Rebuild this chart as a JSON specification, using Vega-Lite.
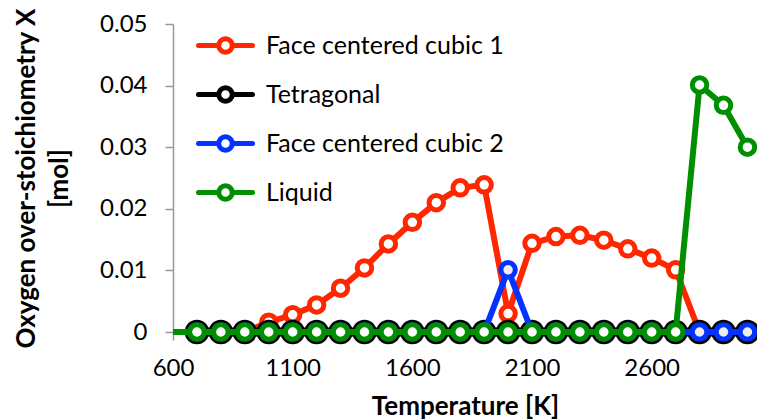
{
  "$schema": "https://vega.github.io/schema/vega-lite/v6.json",
  "width": 584,
  "height": 308,
  "autosize": "none",
  "padding": {"left": 173, "top": 24, "right": 0, "bottom": 88},
  "background": "white",
  "config": {
    "view": {"stroke": null},
    "font": "Lato",
    "axis": {
      "grid": false,
      "domainColor": "#999999",
      "domainWidth": 1.5,
      "tickColor": "#999999",
      "tickWidth": 1.5,
      "tickSize": 8,
      "labelFont": "Lato",
      "labelFontSize": 24,
      "labelColor": "#000000",
      "titleFont": "Lato",
      "titleFontSize": 26,
      "titleFontWeight": "bold",
      "titleColor": "#000000"
    },
    "legend": {
      "labelFont": "Lato",
      "labelFontSize": 25,
      "labelColor": "#000000",
      "labelLimit": 500
    }
  },
  "data": {
    "values": [
      {"T": 700, "series": "Face centered cubic 1", "x": 0},
      {"T": 800, "series": "Face centered cubic 1", "x": 0},
      {"T": 900, "series": "Face centered cubic 1", "x": 0},
      {"T": 1000, "series": "Face centered cubic 1", "x": 0.0016},
      {"T": 1100, "series": "Face centered cubic 1", "x": 0.0028},
      {"T": 1200, "series": "Face centered cubic 1", "x": 0.0044},
      {"T": 1300, "series": "Face centered cubic 1", "x": 0.0071},
      {"T": 1400, "series": "Face centered cubic 1", "x": 0.0104},
      {"T": 1500, "series": "Face centered cubic 1", "x": 0.0143},
      {"T": 1600, "series": "Face centered cubic 1", "x": 0.0178},
      {"T": 1700, "series": "Face centered cubic 1", "x": 0.021},
      {"T": 1800, "series": "Face centered cubic 1", "x": 0.0234},
      {"T": 1900, "series": "Face centered cubic 1", "x": 0.0239},
      {"T": 2000, "series": "Face centered cubic 1", "x": 0.003},
      {"T": 2100, "series": "Face centered cubic 1", "x": 0.0144},
      {"T": 2200, "series": "Face centered cubic 1", "x": 0.0155},
      {"T": 2300, "series": "Face centered cubic 1", "x": 0.0157},
      {"T": 2400, "series": "Face centered cubic 1", "x": 0.0149},
      {"T": 2500, "series": "Face centered cubic 1", "x": 0.0135},
      {"T": 2600, "series": "Face centered cubic 1", "x": 0.012},
      {"T": 2700, "series": "Face centered cubic 1", "x": 0.0101},
      {"T": 2800, "series": "Face centered cubic 1", "x": 0},
      {"T": 2900, "series": "Face centered cubic 1", "x": 0},
      {"T": 3000, "series": "Face centered cubic 1", "x": 0},

      {"T": 700, "series": "Tetragonal", "x": 0},
      {"T": 800, "series": "Tetragonal", "x": 0},
      {"T": 900, "series": "Tetragonal", "x": 0},
      {"T": 1000, "series": "Tetragonal", "x": 0},
      {"T": 1100, "series": "Tetragonal", "x": 0},
      {"T": 1200, "series": "Tetragonal", "x": 0},
      {"T": 1300, "series": "Tetragonal", "x": 0},
      {"T": 1400, "series": "Tetragonal", "x": 0},
      {"T": 1500, "series": "Tetragonal", "x": 0},
      {"T": 1600, "series": "Tetragonal", "x": 0},
      {"T": 1700, "series": "Tetragonal", "x": 0},
      {"T": 1800, "series": "Tetragonal", "x": 0},
      {"T": 1900, "series": "Tetragonal", "x": 0},
      {"T": 2000, "series": "Tetragonal", "x": 0},
      {"T": 2100, "series": "Tetragonal", "x": 0},
      {"T": 2200, "series": "Tetragonal", "x": 0},
      {"T": 2300, "series": "Tetragonal", "x": 0},
      {"T": 2400, "series": "Tetragonal", "x": 0},
      {"T": 2500, "series": "Tetragonal", "x": 0},
      {"T": 2600, "series": "Tetragonal", "x": 0},
      {"T": 2700, "series": "Tetragonal", "x": 0},
      {"T": 2800, "series": "Tetragonal", "x": 0},
      {"T": 2900, "series": "Tetragonal", "x": 0},
      {"T": 3000, "series": "Tetragonal", "x": 0},

      {"T": 700, "series": "Face centered cubic 2", "x": 0},
      {"T": 800, "series": "Face centered cubic 2", "x": 0},
      {"T": 900, "series": "Face centered cubic 2", "x": 0},
      {"T": 1000, "series": "Face centered cubic 2", "x": 0},
      {"T": 1100, "series": "Face centered cubic 2", "x": 0},
      {"T": 1200, "series": "Face centered cubic 2", "x": 0},
      {"T": 1300, "series": "Face centered cubic 2", "x": 0},
      {"T": 1400, "series": "Face centered cubic 2", "x": 0},
      {"T": 1500, "series": "Face centered cubic 2", "x": 0},
      {"T": 1600, "series": "Face centered cubic 2", "x": 0},
      {"T": 1700, "series": "Face centered cubic 2", "x": 0},
      {"T": 1800, "series": "Face centered cubic 2", "x": 0},
      {"T": 1900, "series": "Face centered cubic 2", "x": 0},
      {"T": 2000, "series": "Face centered cubic 2", "x": 0.0101},
      {"T": 2100, "series": "Face centered cubic 2", "x": 0},
      {"T": 2200, "series": "Face centered cubic 2", "x": 0},
      {"T": 2300, "series": "Face centered cubic 2", "x": 0},
      {"T": 2400, "series": "Face centered cubic 2", "x": 0},
      {"T": 2500, "series": "Face centered cubic 2", "x": 0},
      {"T": 2600, "series": "Face centered cubic 2", "x": 0},
      {"T": 2700, "series": "Face centered cubic 2", "x": 0},
      {"T": 2800, "series": "Face centered cubic 2", "x": 0},
      {"T": 2900, "series": "Face centered cubic 2", "x": 0},
      {"T": 3000, "series": "Face centered cubic 2", "x": 0},

      {"T": 600, "series": "Liquid", "x": 0},
      {"T": 700, "series": "Liquid", "x": 0},
      {"T": 800, "series": "Liquid", "x": 0},
      {"T": 900, "series": "Liquid", "x": 0},
      {"T": 1000, "series": "Liquid", "x": 0},
      {"T": 1100, "series": "Liquid", "x": 0},
      {"T": 1200, "series": "Liquid", "x": 0},
      {"T": 1300, "series": "Liquid", "x": 0},
      {"T": 1400, "series": "Liquid", "x": 0},
      {"T": 1500, "series": "Liquid", "x": 0},
      {"T": 1600, "series": "Liquid", "x": 0},
      {"T": 1700, "series": "Liquid", "x": 0},
      {"T": 1800, "series": "Liquid", "x": 0},
      {"T": 1900, "series": "Liquid", "x": 0},
      {"T": 2000, "series": "Liquid", "x": 0},
      {"T": 2100, "series": "Liquid", "x": 0},
      {"T": 2200, "series": "Liquid", "x": 0},
      {"T": 2300, "series": "Liquid", "x": 0},
      {"T": 2400, "series": "Liquid", "x": 0},
      {"T": 2500, "series": "Liquid", "x": 0},
      {"T": 2600, "series": "Liquid", "x": 0},
      {"T": 2700, "series": "Liquid", "x": 0},
      {"T": 2800, "series": "Liquid", "x": 0.0401},
      {"T": 2900, "series": "Liquid", "x": 0.0368},
      {"T": 3000, "series": "Liquid", "x": 0.0300}
    ]
  },
  "encoding": {
    "x": {
      "field": "T",
      "type": "quantitative",
      "scale": {"domain": [600, 3040], "nice": false, "zero": false},
      "axis": {
        "values": [600, 1100, 1600, 2100, 2600],
        "format": "d",
        "labelPadding": 16,
        "labelFlush": false,
        "title": "Temperature [K]",
        "titlePadding": 13
      }
    },
    "y": {
      "field": "x",
      "type": "quantitative",
      "scale": {"domain": [0, 0.05], "nice": false},
      "axis": {
        "values": [0, 0.01, 0.02, 0.03, 0.04, 0.05],
        "format": ".2~f",
        "labelPadding": 18,
        "labelFlush": false,
        "title": ["Oxygen over-stoichiometry X", "[mol]"],
        "titleLineHeight": 33,
        "titlePadding": 27
      }
    },
    "stroke": {
      "field": "series",
      "type": "nominal",
      "scale": {
        "domain": ["Face centered cubic 1", "Tetragonal", "Face centered cubic 2", "Liquid"],
        "range": ["#ff2600", "#000000", "#0433ff", "#008f00"]
      },
      "legend": {
        "title": null,
        "orient": "none",
        "legendX": 0,
        "legendY": 9,
        "padding": 0,
        "symbolType": "M-3,0H-0.75M0.75,0H3M-0.75,0A0.75,0.75,0,1,0,0.75,0A0.75,0.75,0,1,0,-0.75,0",
        "symbolSize": 324,
        "symbolStrokeWidth": 5,
        "symbolFillColor": "#ffffff",
        "symbolOffset": 40,
        "labelOffset": 28,
        "rowPadding": 14,
        "encode": {
          "symbols": {"update": {"strokeCap": {"value": "round"}, "fill": {"value": "#ffffff"}}}
        }
      }
    }
  },
  "layer": [
    {"transform": [{"filter": "datum.series === 'Face centered cubic 1'"}], "mark": {"type": "line", "strokeWidth": 6, "strokeCap": "round", "strokeJoin": "round"}},
    {"transform": [{"filter": "datum.series === 'Face centered cubic 1'"}], "mark": {"type": "point", "shape": "circle", "filled": false, "fill": "#ffffff", "fillOpacity": 1, "opacity": 1, "size": 210, "strokeWidth": 5}},
    {"transform": [{"filter": "datum.series === 'Tetragonal'"}], "mark": {"type": "line", "strokeWidth": 9, "strokeCap": "round", "strokeJoin": "round"}},
    {"transform": [{"filter": "datum.series === 'Tetragonal'"}], "mark": {"type": "point", "shape": "circle", "filled": false, "fill": "#ffffff", "fillOpacity": 1, "opacity": 1, "size": 380, "strokeWidth": 5}},
    {"transform": [{"filter": "datum.series === 'Face centered cubic 2'"}], "mark": {"type": "line", "strokeWidth": 6, "strokeCap": "round", "strokeJoin": "round"}},
    {"transform": [{"filter": "datum.series === 'Face centered cubic 2'"}], "mark": {"type": "point", "shape": "circle", "filled": false, "fill": "#eeeeee", "fillOpacity": 1, "opacity": 1, "size": 210, "strokeWidth": 5}},
    {"transform": [{"filter": "datum.series === 'Liquid'"}], "mark": {"type": "line", "strokeWidth": 6, "strokeCap": "butt", "strokeJoin": "round"}},
    {"transform": [{"filter": "datum.series === 'Liquid' && datum.T > 600"}], "mark": {"type": "point", "shape": "circle", "filled": false, "fill": "#ffffff", "fillOpacity": 1, "opacity": 1, "size": 210, "strokeWidth": 5}}
  ]
}
